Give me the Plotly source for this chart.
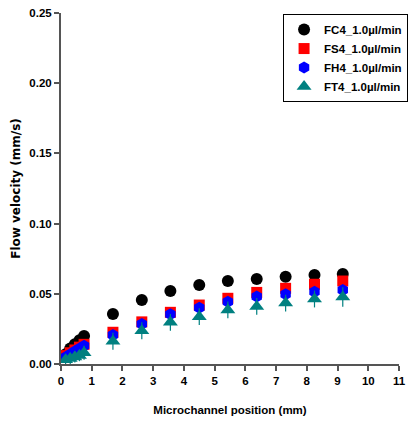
import plotly.graph_objects as go

# Measurement positions along the microchannel (mm)
position_mm = [0.15, 0.30, 0.45, 0.60, 0.75, 1.69, 2.63, 3.56, 4.50,
               5.43, 6.37, 7.31, 8.25, 9.17]

# Mean flow velocity (mm/s) for each channel geometry at 1.0 µl/min
fc4_velocity = [0.007, 0.011, 0.014, 0.017, 0.020, 0.0356, 0.0456, 0.0520,
                0.0563, 0.0591, 0.0606, 0.0622, 0.0634, 0.0641]
fs4_velocity = [0.006, 0.008, 0.010, 0.012, 0.014, 0.0226, 0.0300, 0.0368,
                0.0420, 0.0468, 0.0510, 0.0539, 0.0568, 0.0591]
fh4_velocity = [0.005, 0.007, 0.009, 0.011, 0.013, 0.0207, 0.0285, 0.0354,
                0.0400, 0.0444, 0.0480, 0.0496, 0.0515, 0.0527]
ft4_velocity = [0.003, 0.004, 0.005, 0.006, 0.008, 0.0162, 0.0237, 0.0297,
                0.0337, 0.0385, 0.0410, 0.0434, 0.0463, 0.0477]

# Standard deviations
fc4_sd = [0.001] * 14
fs4_sd = [0.002] * 14
fh4_sd = [0.002] * 14
ft4_sd = [0.004, 0.004, 0.004, 0.004, 0.005, 0.006, 0.006, 0.006,
          0.006, 0.006, 0.006, 0.006, 0.006, 0.007]

series_names = ["FC4_1.0\u00b5l/min", "FS4_1.0\u00b5l/min",
                "FH4_1.0\u00b5l/min", "FT4_1.0\u00b5l/min"]

FONT = "Liberation Sans"

fig = go.Figure()

styles = [
    (fc4_velocity, fc4_sd, "circle", "#000000", 12, "#000000"),
    (fs4_velocity, fs4_sd, "square", "#ff0000", 11, "#b00000"),
    (fh4_velocity, fh4_sd, "hexagon", "#0000ff", 12, "#b02020"),
    (ft4_velocity, ft4_sd, "triangle-up", "#008080", 13, "#008080"),
]

for name, (vals, sd, sym, col, size, ecol) in zip(series_names, styles):
    fig.add_trace(go.Scatter(
        x=position_mm, y=vals, mode="markers", name=name,
        marker=dict(symbol=sym, color=col, size=size, line=dict(width=0)),
        error_y=dict(type="data", array=sd, color=ecol, thickness=1.2,
                     width=0),
    ))

axis_common = dict(
    showline=True, linecolor="#555555", linewidth=2,
    ticks="outside", ticklen=5, tickwidth=2, tickcolor="#555555",
    showgrid=False, zeroline=False, automargin=False,
    tickfont=dict(family=FONT, size=11.5, color="#000000", weight="bold"),
)

fig.update_xaxes(
    range=[0, 11], tickvals=list(range(12)), **axis_common,
    title=dict(text="<b>Microchannel position (mm)</b>",
               font=dict(family=FONT, size=11.5, color="#000000"),
               standoff=20),
)
fig.update_yaxes(
    range=[0, 0.25], tickvals=[0, 0.05, 0.10, 0.15, 0.20, 0.25],
    tickformat=".2f", **axis_common,
    title=dict(text="<b>Flow velocity (mm/s)</b>",
               font=dict(family="DejaVu Sans", size=12, color="#000000"),
               standoff=6),
)

fig.update_layout(
    width=414, height=425,
    margin=dict(l=61, r=6, t=13, b=61),
    plot_bgcolor="#ffffff", paper_bgcolor="#ffffff",
    showlegend=True,
    legend=dict(
        x=0.657, y=0.997, xanchor="left", yanchor="top",
        bordercolor="#000000", borderwidth=1, bgcolor="#ffffff",
        font=dict(family=FONT, size=11.5, color="#000000", weight="bold"),
        itemwidth=30, tracegroupgap=0,
    ),
)

fig.write_html("out.html")
